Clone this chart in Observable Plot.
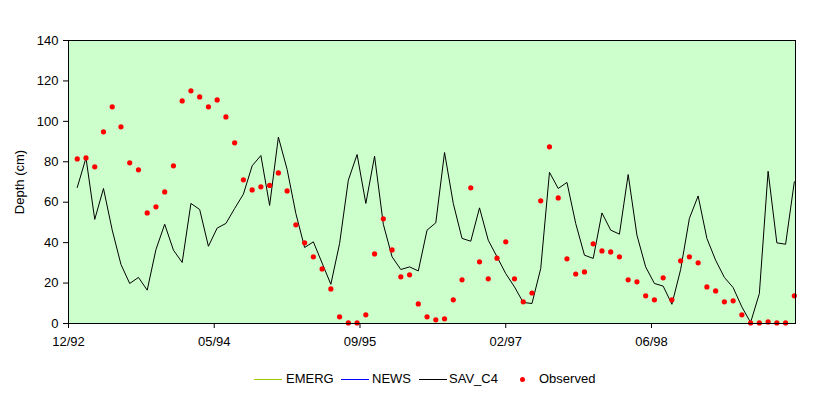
<!DOCTYPE html>
<html><head><meta charset="utf-8">
<script src="https://cdn.jsdelivr.net/npm/d3@7"></script>
<script src="https://cdn.jsdelivr.net/npm/@observablehq/plot@0.6"></script>
<style>
body{margin:0;background:#fff;font-family:"Liberation Sans",Arial,sans-serif;}
#wrap{position:relative;width:831px;height:398px;overflow:hidden;}
#legend{position:absolute;left:0;top:360px;width:831px;height:38px;font-size:13px;color:#000;}
.li{position:absolute;top:19px;}
.ln{position:absolute;height:0;border-top:1px solid;top:0;}
.tx{position:absolute;top:-8px;white-space:nowrap;line-height:16px;}
.dt{position:absolute;width:5px;height:5px;border-radius:50%;background:#FF0000;top:-2px;}
</style></head><body><div id="wrap"></div>
<script>
const seriesNames = ["EMERG", "NEWS", "SAV_C4", "Observed"];
const seriesColors = ["#99CC00", "#0000FF", "#000000", "#FF0000"];
const tickLabels = ["12/92", "05/94", "09/95", "02/97", "06/98"];

// SAV_C4 modelled depth (cm), one value every 30 days
const savC4 = [
  67.3, 81.9, 51.5, 66.8, 46.2, 29.2, 19.8, 22.8, 16.5, 36.6,
  49.1, 36.3, 30.2, 59.4, 56.4, 38.2, 47.2, 49.5, 56.9, 64.0,
  78.0, 83.1, 58.4, 92.2, 76.2, 54.4, 37.6, 40.4, 29.9, 19.4,
  39.6, 70.9, 83.6, 59.4, 82.8, 49.1, 33.0, 26.7, 28.0, 26.0,
  46.2, 49.8, 84.6, 59.4, 42.1, 40.7, 57.2, 41.2, 33.0, 24.7,
  18.1, 10.4, 9.9, 27.2, 74.8, 66.8, 69.8, 49.5, 33.8, 32.2,
  54.7, 46.2, 44.2, 73.7, 43.7, 28.0, 19.8, 18.5, 9.5, 26.7,
  52.0, 63.1, 42.1, 31.3, 22.8, 17.8, 8.2, 0.5, 14.8, 75.3,
  39.9, 39.2, 70.1
];

// Observed depth (cm)
const observed = [
  81.4, 81.9, 77.5, 94.8, 107.2, 97.3, 79.5, 76.0, 54.7, 57.7,
  65.1, 78.0, 110.1, 115.1, 112.1, 107.2, 110.6, 102.2, 89.4, 71.1,
  66.1, 67.6, 68.3, 74.5, 65.6, 48.8, 39.9, 33.0, 27.0, 17.1,
  3.3, 0.3, 0.3, 4.3, 34.4, 51.8, 36.4, 23.1, 24.1, 9.7,
  3.3, 1.8, 2.3, 11.7, 21.6, 67.1, 30.5, 22.1, 32.3, 40.4,
  22.1, 10.7, 15.1, 60.7, 87.4, 62.1, 32.0, 24.5, 25.5, 39.4,
  35.9, 35.4, 33.0, 21.6, 20.6, 13.7, 11.7, 22.6, 11.7, 31.0,
  33.0, 30.0, 18.1, 16.1, 10.7, 11.2, 4.3, 0.3, 0.3, 0.8,
  0.3, 0.3, 13.7
];

const axisStart = new Date(Date.UTC(1992, 11, 28));
const axisEnd = d3.utcDay.offset(axisStart, 2494);
const dates = savC4.map((_, i) => d3.utcDay.offset(axisStart, 30 * (i + 1)));
const tickDates = tickLabels.map((_, k) => d3.utcDay.offset(axisStart, 500 * k));

const lineData = savC4.map((v, i) => ({date: dates[i], value: v}));
const obsData = observed.map((v, i) => ({date: dates[i], value: v}));

const chart = Plot.plot({
  width: 831, height: 360,
  marginLeft: 68, marginRight: 36, marginTop: 40, marginBottom: 37,
  style: {fontFamily: "'Liberation Sans', Arial, sans-serif", fontSize: "13px", background: "transparent", color: "#000"},
  x: {type: "utc", domain: [axisStart, axisEnd]},
  y: {domain: [0, 140]},
  marks: [
    Plot.frame({fill: "#CCFFCC", stroke: null}),
    Plot.axisY({ticks: d3.range(0, 141, 20), tickSize: 5, tickPadding: 5, stroke: "#000", strokeOpacity: 1,
      label: "Depth (cm)", labelAnchor: "center", labelArrow: "none", labelOffset: 54, fontSize: 13}),
    Plot.axisX({ticks: tickDates, tickFormat: d => tickLabels[tickDates.findIndex(t => +t === +d)],
      tickSize: 5, tickPadding: 8, stroke: "#000", strokeOpacity: 1, label: null, fontSize: 13}),
    Plot.line(lineData, {x: "date", y: "value", stroke: seriesColors[2], strokeWidth: 1}),
    Plot.dot(obsData, {x: "date", y: "value", r: 2.6, fill: seriesColors[3], stroke: null}),
    Plot.frame({stroke: "#000", strokeWidth: 1})
  ]
});
const wrap = document.getElementById("wrap");
wrap.appendChild(chart);

const legend = document.createElement("div");
legend.id = "legend";
const lx = [{s: 254, t: 286}, {s: 341, t: 372}, {s: 419, t: 449}, {s: 520, t: 539}];
seriesNames.forEach((name, i) => {
  const item = document.createElement("div");
  item.className = "li";
  item.style.left = "0px";
  if (i < 3) {
    const ln = document.createElement("div");
    ln.className = "ln";
    ln.style.left = lx[i].s + "px";
    ln.style.width = "28px";
    ln.style.borderTopColor = seriesColors[i];
    item.appendChild(ln);
  } else {
    const dt = document.createElement("div");
    dt.className = "dt";
    dt.style.left = lx[i].s + "px";
    item.appendChild(dt);
  }
  const tx = document.createElement("div");
  tx.className = "tx";
  tx.style.left = lx[i].t + "px";
  tx.textContent = name;
  item.appendChild(tx);
  legend.appendChild(item);
});
wrap.appendChild(legend);
</script></body></html>
